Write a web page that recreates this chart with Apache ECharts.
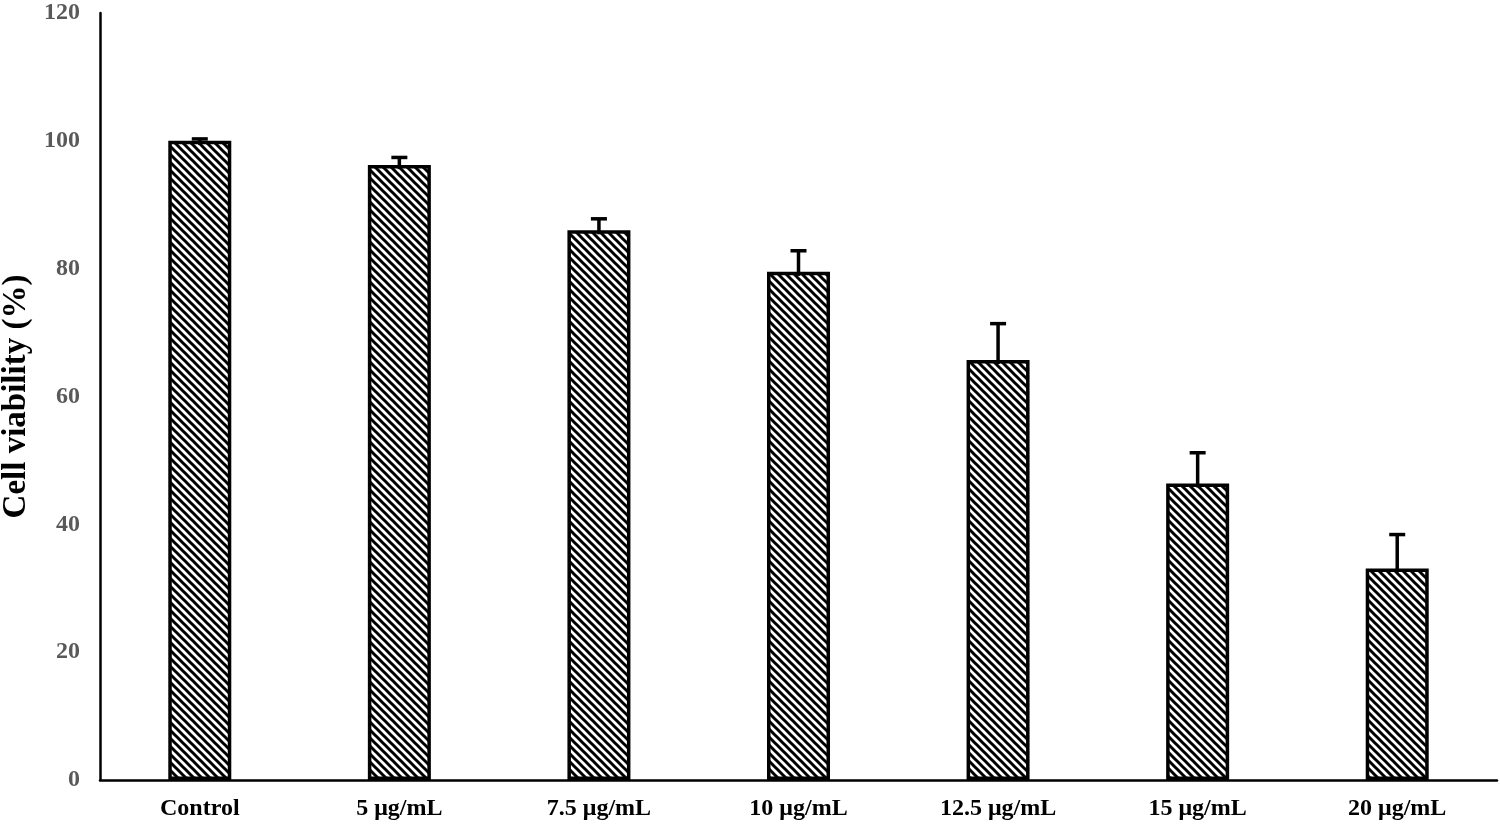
<!DOCTYPE html>
<html><head><meta charset="utf-8">
<script src="https://cdn.jsdelivr.net/npm/echarts@6/dist/echarts.min.js"></script>
<style>html,body{margin:0;padding:0;background:#fff}#c{width:1500px;height:827px}</style>
</head><body><div id="c"></div>
<script>
var categories = ['Control', '5 μg/mL', '7.5 μg/mL', '10 μg/mL', '12.5 μg/mL', '15 μg/mL', '20 μg/mL'];
var viability = [100, 96.2, 86.0, 79.5, 65.7, 46.4, 33.1];
var errors = [0.3, 1.2, 1.8, 3.3, 5.7, 4.8, 5.3];
var yTicks = [0, 20, 40, 60, 80, 100, 120];

var tile = document.createElement('canvas');
tile.width = 8; tile.height = 8;
var g = tile.getContext('2d');
g.fillStyle = '#fff'; g.fillRect(0, 0, 8, 8);
g.strokeStyle = '#000'; g.lineWidth = 3;
for (var k = -2; k <= 2; k++) {
  g.beginPath(); g.moveTo(-8, -8 + k * 8); g.lineTo(16, 16 + k * 8); g.stroke();
}

var chart = echarts.init(document.getElementById('c'));
var serif = '"Liberation Serif", "Times New Roman", serif';
chart.setOption({
  animation: false,
  grid: {left: 100, right: 3, top: 13, bottom: 47, containLabel: false, outerBoundsMode: 'none'},
  xAxis: {
    type: 'category', data: categories,
    axisLine: {lineStyle: {color: '#000', width: 2.5}},
    axisTick: {show: false},
    axisLabel: {color: '#000', fontFamily: serif, fontWeight: 'bold', fontSize: 24, margin: 17}
  },
  yAxis: {
    type: 'value', min: yTicks[0], max: yTicks[yTicks.length - 1], interval: 20,
    name: 'Cell viability (%)', nameLocation: 'middle', nameGap: 66,
    nameTextStyle: {color: '#000', fontFamily: serif, fontWeight: 'bold', fontSize: 33},
    axisLine: {show: true, lineStyle: {color: '#000', width: 2.5}},
    axisTick: {show: false},
    splitLine: {show: false},
    axisLabel: {color: '#595959', fontFamily: serif, fontWeight: 'bold', fontSize: 24, margin: 20}
  },
  series: [{
    type: 'bar', data: viability, barWidth: 63,
    itemStyle: {color: {image: tile, repeat: 'repeat'}, borderColor: '#000', borderWidth: 3.5}
  }, {
    type: 'custom', z: 10,
    data: viability.map(function (v, i) { return [i, v, v + errors[i]]; }),
    renderItem: function (params, api) {
      var p0 = api.coord([api.value(0), api.value(1)]);
      var p1 = api.coord([api.value(0), api.value(2)]);
      var hw = 8;
      return {type: 'group', children: [
        {type: 'line', shape: {x1: p0[0], y1: p0[1] + 4, x2: p1[0], y2: p1[1]}, style: {stroke: '#000', lineWidth: 3.5}},
        {type: 'line', shape: {x1: p1[0] - hw, y1: p1[1], x2: p1[0] + hw, y2: p1[1]}, style: {stroke: '#000', lineWidth: 3.5}}
      ]};
    }
  }]
});
</script></body></html>
